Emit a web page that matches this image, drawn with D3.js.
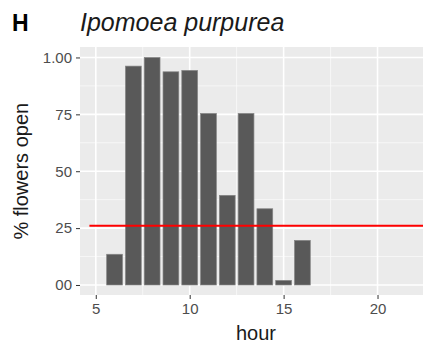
<!DOCTYPE html>
<html>
<head>
<meta charset="utf-8">
<script src="https://cdn.jsdelivr.net/npm/d3@7"></script>
<style>
  body { margin: 0; background: #fff; }
  text { font-family: "Liberation Sans", Arial, sans-serif; }
</style>
</head>
<body>
<div id="chart"></div>
<script>
// data
var hours = [6, 7, 8, 9, 10, 11, 12, 13, 14, 15, 16];
var fracOpen = [0.135, 0.962, 1.0, 0.937, 0.943, 0.754, 0.394, 0.754, 0.335, 0.02, 0.196];
var threshold = 0.26;
var thresholdFrom = 4.66;
var xTicks = [5, 10, 15, 20];
var yTicks = [0, 0.25, 0.5, 0.75, 1];
var yTickLabels = ["00", "25", "50", "75", "1.00"];

var svgWidth = 423, svgHeight = 344;
var margin = {top: 47, right: -9, bottom: 49, left: 80};
var chartWidth = svgWidth - margin.left - margin.right;
var chartHeight = svgHeight - margin.top - margin.bottom;

var svg = d3.select("#chart").append("svg")
  .attr("width", svgWidth)
  .attr("height", svgHeight);

var chart = svg.append("g")
  .attr("transform", `translate(${margin.left}, ${margin.top})`);

var x = d3.scaleLinear().domain([4.16, 22.9]).range([0, chartWidth]);
var y = d3.scaleLinear().domain([-0.044, 1.046]).range([chartHeight, 0]);

// panel
chart.append("rect")
  .attr("width", chartWidth).attr("height", chartHeight)
  .attr("fill", "#ebebeb");

// minor grid
var xMinor = [7.5, 12.5, 17.5, 22.5];
var yMinor = [0.125, 0.375, 0.625, 0.875];
chart.selectAll(".xminor").data(xMinor).enter().append("line")
  .attr("x1", d => x(d)).attr("x2", d => x(d))
  .attr("y1", 0).attr("y2", chartHeight)
  .attr("stroke", "#fafafa").attr("stroke-width", 0.8);
chart.selectAll(".yminor").data(yMinor).enter().append("line")
  .attr("x1", 0).attr("x2", chartWidth)
  .attr("y1", d => y(d)).attr("y2", d => y(d))
  .attr("stroke", "#fafafa").attr("stroke-width", 0.8);

// major grid
chart.selectAll(".xmajor").data(xTicks).enter().append("line")
  .attr("x1", d => x(d)).attr("x2", d => x(d))
  .attr("y1", 0).attr("y2", chartHeight)
  .attr("stroke", "#fff").attr("stroke-width", 1.6);
chart.selectAll(".ymajor").data(yTicks).enter().append("line")
  .attr("x1", 0).attr("x2", chartWidth)
  .attr("y1", d => y(d)).attr("y2", d => y(d))
  .attr("stroke", "#fff").attr("stroke-width", 1.6);

// bars
var bw = 0.84;
chart.selectAll(".bar").data(hours).enter().append("rect")
  .attr("x", d => x(d - bw / 2))
  .attr("width", x(bw) - x(0))
  .attr("y", (d, i) => y(fracOpen[i]))
  .attr("height", (d, i) => y(0) - y(fracOpen[i]))
  .attr("fill", "#595959")
  .attr("stroke", "#858585")
  .attr("stroke-width", 0.7);

// threshold line
chart.append("line")
  .attr("x1", x(thresholdFrom)).attr("x2", chartWidth)
  .attr("y1", y(threshold)).attr("y2", y(threshold))
  .attr("stroke", "#ff0000").attr("stroke-width", 2);

// axes
var bottomAxis = d3.axisBottom(x).tickValues(xTicks).tickSize(4).tickPadding(4);
var gx = chart.append("g")
  .attr("transform", `translate(0, ${chartHeight})`)
  .call(bottomAxis);
gx.select(".domain").remove();
gx.selectAll("line").attr("stroke", "#333");
gx.selectAll("text").attr("fill", "#4d4d4d").attr("font-size", 15)
  .attr("font-family", "Liberation Sans, Arial, sans-serif");

var leftAxis = d3.axisLeft(y).tickValues(yTicks).tickSize(4).tickPadding(4)
  .tickFormat((d, i) => yTickLabels[i]);
var gy = chart.append("g").call(leftAxis);
gy.select(".domain").remove();
gy.selectAll("line").attr("stroke", "#333");
gy.selectAll("text").attr("fill", "#4d4d4d").attr("font-size", 15)
  .attr("font-family", "Liberation Sans, Arial, sans-serif");

// titles
svg.append("text")
  .attr("x", 12).attr("y", 31)
  .attr("font-size", 23).attr("font-weight", "bold")
  .attr("fill", "#000")
  .text("H");

svg.append("text")
  .attr("x", 80).attr("y", 31)
  .attr("font-size", 25).attr("font-style", "italic")
  .attr("fill", "#1a1a1a")
  .text("Ipomoea purpurea");

svg.append("text")
  .attr("transform", `translate(${margin.left + chartWidth / 2}, 340)`)
  .attr("text-anchor", "middle")
  .attr("font-size", 20).attr("fill", "#1a1a1a")
  .text("hour");

svg.append("text")
  .attr("transform", `translate(28, ${margin.top + y(0.5)}) rotate(-90)`)
  .attr("text-anchor", "middle")
  .attr("font-size", 20).attr("fill", "#1a1a1a")
  .text("% flowers open");
</script>
</body>
</html>
